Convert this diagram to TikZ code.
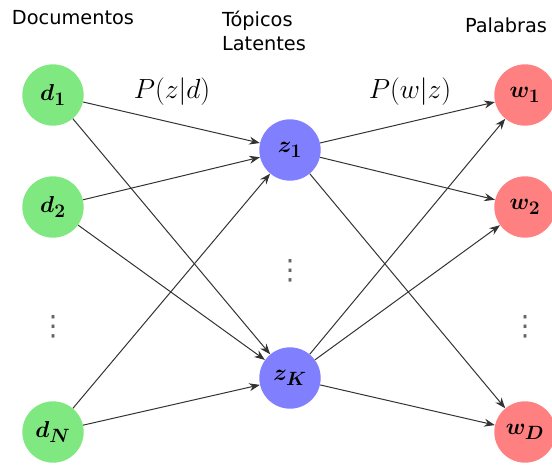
\documentclass[tikz,border=0pt]{standalone}
\usepackage{amsmath,bm}
\usepackage{fontspec}
\setsansfont{DejaVu Sans}
\newfontfamily\dejavu{DejaVu Sans}
\usetikzlibrary{arrows.meta}
\definecolor{dgreen}{RGB}{128,232,128}
\definecolor{zblue}{RGB}{128,128,255}
\definecolor{wred}{RGB}{255,128,128}
\begin{document}
\begin{tikzpicture}[x=0.75pt,y=-0.75pt,
  nd/.style={circle,minimum size=46pt,inner sep=0pt,font=\fontsize{19}{23}\selectfont},
  doc/.style={nd,fill=dgreen},
  top/.style={nd,fill=zblue},
  wrd/.style={nd,fill=wred},
  ed/.style={draw=black!80,line width=0.75pt,-{Stealth[length=8pt,width=6pt]}},
  hd/.style={font=\sffamily\fontsize{14.5}{18}\selectfont,align=left},
  lbl/.style={font=\fontsize{22}{26}\selectfont},
  vd/.style={font=\dejavu\fontsize{21}{25}\selectfont,inner sep=0pt,text=black!60}]
\useasboundingbox (0,0) rectangle (552,464);
\node[doc] (d1) at (53,95) {$\bm{d_1}$};
\node[doc] (d2) at (53,207) {$\bm{d_2}$};
\node[doc] (dN) at (53,432) {$\bm{d_N}$};
\node[vd] (dd) at (53,327) {⋮};
\node[top] (z1) at (290,150) {$\bm{z_1}$};
\node[top] (zK) at (290,378) {$\bm{z_K}$};
\node[vd] (zd) at (290,271) {⋮};
\node[wrd] (w1) at (525,95) {$\bm{w_1}$};
\node[wrd] (w2) at (525,207) {$\bm{w_2}$};
\node[wrd] (wD) at (525,432) {$\bm{w_D}$};
\node[vd] (wd) at (525,327) {⋮};
\node[hd] (h1) at (73,18) {Documentos};
\node[hd] (h2) at (264,31) {Tópicos\\Latentes};
\node[hd] (h3) at (506,25) {Palabras};
\node[lbl] (l1) at (172,92) {$P(z|d)$};
\node[lbl] (l2) at (410,92) {$P(w|z)$};
\foreach \s in {d1,d2,dN}{\foreach \t in {z1,zK}{\draw[ed] (\s) -- (\t);}}
\foreach \s in {z1,zK}{\foreach \t in {w1,w2,wD}{\draw[ed] (\s) -- (\t);}}
\end{tikzpicture}
\end{document}
